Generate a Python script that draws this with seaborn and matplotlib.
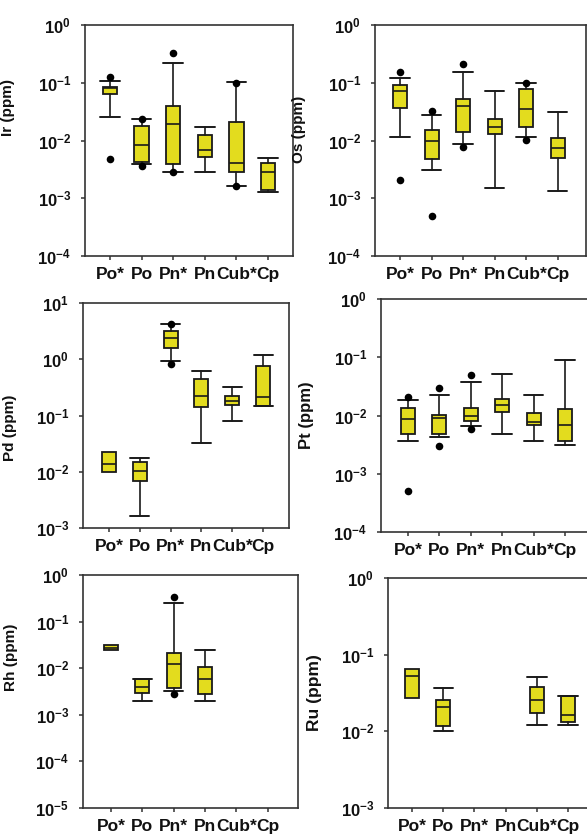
import numpy as np
import pandas as pd
import matplotlib
matplotlib.use("Agg")
import matplotlib.pyplot as plt
from matplotlib.ticker import FuncFormatter, LogLocator, NullLocator
import seaborn as sns

nan = np.nan
categories = ["Po*", "Po", "Pn*", "Pn", "Cub*", "Cp"]

# ---------------- Ir ----------------
ir_q1 = [0.064, 0.0043, 0.0039, 0.0052, 0.0029, 0.0014]
ir_med = [0.080, 0.0083, 0.019, 0.0068, 0.0040, 0.0029]
ir_q3 = [0.086, 0.0178, 0.040, 0.0124, 0.021, 0.0040]
ir_wlo = [0.026, 0.0039, 0.0029, 0.0029, 0.0016, 0.0013]
ir_whi = [0.107, 0.024, 0.22, 0.017, 0.104, 0.0049]
ir_fl_cat = ["Po*", "Po*", "Po", "Po", "Pn*", "Pn*", "Cub*", "Cub*"]
ir_fl_val = [0.124, 0.0047, 0.024, 0.0036, 0.33, 0.0029, 0.10, 0.0016]

# ---------------- Os ----------------
os_q1 = [0.037, 0.0048, 0.014, 0.013, 0.017, 0.0049]
os_med = [0.072, 0.0097, 0.039, 0.017, 0.035, 0.0074]
os_q3 = [0.090, 0.0154, 0.053, 0.024, 0.079, 0.011]
os_wlo = [0.0117, 0.0031, 0.0088, 0.0015, 0.0117, 0.00135]
os_whi = [0.123, 0.028, 0.155, 0.072, 0.10, 0.031]
os_fl_cat = ["Po*", "Po*", "Po", "Po", "Pn*", "Pn*", "Cub*", "Cub*"]
os_fl_val = [0.154, 0.0021, 0.032, 0.0005, 0.21, 0.0076, 0.10, 0.0103]

# ---------------- Pd ----------------
pd_q1 = [0.0097, 0.0069, 1.6, 0.144, 0.155, 0.148]
pd_med = [0.014, 0.0105, 2.35, 0.22, 0.184, 0.21]
pd_q3 = [0.022, 0.015, 3.2, 0.44, 0.22, 0.76]
pd_wlo = [nan, 0.00166, 0.93, 0.032, 0.081, 0.148]
pd_whi = [nan, 0.0174, 4.2, 0.63, 0.32, 1.19]
pd_fl_cat = ["Pn*", "Pn*"]
pd_fl_val = [4.3, 0.81]

# ---------------- Pt ----------------
pt_q1 = [0.0049, 0.0048, 0.0082, 0.0116, 0.0069, 0.0037]
pt_med = [0.0086, 0.0090, 0.0098, 0.015, 0.0078, 0.0069]
pt_q3 = [0.0133, 0.0102, 0.0133, 0.019, 0.0112, 0.0128]
pt_wlo = [0.0037, 0.0042, 0.0065, 0.0049, 0.0037, 0.0031]
pt_whi = [0.0185, 0.0224, 0.038, 0.052, 0.0224, 0.09]
pt_fl_cat = ["Po*", "Po*", "Po", "Po", "Pn*", "Pn*"]
pt_fl_val = [0.0205, 0.00051, 0.0294, 0.0030, 0.0496, 0.0059]

# ---------------- Rh ----------------
rh_q1 = [0.024, 0.0030, 0.0038, 0.0028, nan, nan]
rh_med = [0.0275, 0.0040, 0.0123, 0.0059, nan, nan]
rh_q3 = [0.0316, 0.0058, 0.0215, 0.0108, nan, nan]
rh_wlo = [nan, 0.0020, 0.0032, 0.0020, nan, nan]
rh_whi = [nan, 0.0058, 0.246, 0.024, nan, nan]
rh_fl_cat = ["Pn*", "Pn*"]
rh_fl_val = [0.33, 0.0028]

# ---------------- Ru ----------------
ru_q1 = [0.027, 0.0118, nan, nan, 0.0175, 0.0134]
ru_med = [0.053, 0.0205, nan, nan, 0.026, 0.0163]
ru_q3 = [0.066, 0.026, nan, nan, 0.0376, 0.029]
ru_wlo = [nan, 0.010, nan, nan, 0.012, 0.012]
ru_whi = [nan, 0.037, nan, nan, 0.0516, 0.029]
ru_fl_cat = []
ru_fl_val = []

ylabels = ["Ir (ppm)", "Os (ppm)", "Pd (ppm)", "Pt (ppm)", "Rh (ppm)", "Ru (ppm)"]

# ---------------- style ----------------
sns.set_style("ticks")
plt.rcParams["font.family"] = ["Liberation Sans", "DejaVu Sans"]
plt.rcParams["font.weight"] = "bold"
plt.rcParams["mathtext.fontset"] = "custom"
plt.rcParams["mathtext.rm"] = "Liberation Sans:bold"
plt.rcParams["mathtext.bf"] = "Liberation Sans:bold"
plt.rcParams["mathtext.it"] = "Liberation Sans:bold"
plt.rcParams["mathtext.default"] = "bf"

W, H = 587, 836
fig = plt.figure(figsize=(W / 100, H / 100), dpi=100)
fig.patch.set_facecolor("white")

FILL = "#e3dc1e"
INK = "#1a1a1a"

panels = [
    dict(q1=ir_q1, med=ir_med, q3=ir_q3, wlo=ir_wlo, whi=ir_whi, fc=ir_fl_cat, fv=ir_fl_val,
         rect=(85, 25, 293, 256), xlim=(-0.79, 5.79), ylim=(-4, 0), lab=ylabels[0],
         labpos=(15, 107), labsize=11),
    dict(q1=os_q1, med=os_med, q3=os_q3, wlo=os_wlo, whi=os_whi, fc=os_fl_cat, fv=os_fl_val,
         rect=(375, 25, 586, 256), xlim=(-0.8, 5.9), ylim=(-4, 0), lab=ylabels[1],
         labpos=(306, 129), labsize=11),
    dict(q1=pd_q1, med=pd_med, q3=pd_q3, wlo=pd_wlo, whi=pd_whi, fc=pd_fl_cat, fv=pd_fl_val,
         rect=(83, 303, 289, 528), xlim=(-0.84, 5.84), ylim=(-3, 1), lab=ylabels[2],
         labpos=(17, 428), labsize=11),
    dict(q1=pt_q1, med=pt_med, q3=pt_q3, wlo=pt_wlo, whi=pt_whi, fc=pt_fl_cat, fv=pt_fl_val,
         rect=(381, 299, 592, 532), xlim=(-0.86, 5.86), ylim=(-4, 0), lab=ylabels[3],
         labpos=(314, 415), labsize=12),
    dict(q1=rh_q1, med=rh_med, q3=rh_q3, wlo=rh_wlo, whi=rh_whi, fc=rh_fl_cat, fv=rh_fl_val,
         rect=(83, 575, 298, 808), xlim=(-0.89, 5.96), ylim=(-5, 0), lab=ylabels[4],
         labpos=(18, 657), labsize=11),
    dict(q1=ru_q1, med=ru_med, q3=ru_q3, wlo=ru_wlo, whi=ru_whi, fc=ru_fl_cat, fv=ru_fl_val,
         rect=(388, 578, 593, 808), xlim=(-0.77, 5.8), ylim=(-3, 0), lab=ylabels[5],
         labpos=(322, 693), labsize=12.5),
]

fmt = FuncFormatter(lambda v, p: r"$10^{%d}$" % int(round(np.log10(v))))

for P in panels:
    l, t, r, b = P["rect"]
    ax = fig.add_axes([l / W, 1 - b / H, (r - l) / W, (b - t) / H])
    ax.set_facecolor("white")

    stats, pos, nowhisk = [], [], []
    for i in range(len(categories)):
        if np.isnan(P["q1"][i]):
            continue
        wl, wh = P["wlo"][i], P["whi"][i]
        nw = np.isnan(wl)
        if nw:
            wl, wh = P["q1"][i], P["q3"][i]
        stats.append(dict(med=P["med"][i], q1=P["q1"][i], q3=P["q3"][i],
                          whislo=wl, whishi=wh, fliers=[]))
        pos.append(i)
        nowhisk.append(nw)

    art = ax.bxp(stats, positions=pos, widths=0.45, capwidths=0.62, patch_artist=True,
                 showfliers=False, manage_ticks=False,
                 boxprops=dict(facecolor=FILL, edgecolor=INK, linewidth=1.3),
                 whiskerprops=dict(color=INK, linewidth=1.2),
                 capprops=dict(color=INK, linewidth=1.4),
                 medianprops=dict(color=INK, linewidth=1.2))
    for k, nw in enumerate(nowhisk):
        if nw:
            for a in (art["caps"][2 * k], art["caps"][2 * k + 1],
                      art["whiskers"][2 * k], art["whiskers"][2 * k + 1]):
                a.set_visible(False)

    if len(P["fv"]):
        fdf = pd.DataFrame({"x": [categories.index(c) for c in P["fc"]], "y": P["fv"]})
        sns.scatterplot(data=fdf, x="x", y="y", ax=ax, color="black", s=30,
                        edgecolor="black", linewidth=0, zorder=5, legend=False)

    ax.set_yscale("log")
    ax.set_ylim(10.0 ** P["ylim"][0], 10.0 ** P["ylim"][1])
    ax.set_xlim(*P["xlim"])
    ax.yaxis.set_major_locator(LogLocator(base=10, numticks=12))
    ax.yaxis.set_minor_locator(NullLocator())
    ax.yaxis.set_major_formatter(fmt)
    ax.set_xticks(range(len(categories)))
    ax.set_xticklabels(categories)
    ax.set_xlabel("")
    ax.set_ylabel(P["lab"], fontsize=P["labsize"], fontweight="bold", color="#111")
    lx, ly = P["labpos"]
    ax.yaxis.set_label_coords((lx - l) / (r - l), (b - ly) / (b - t))

    ax.tick_params(axis="y", direction="out", length=3, width=1.1, color="#333",
                   pad=7, labelsize=12, labelcolor="#111")
    ax.tick_params(axis="x", direction="out", length=3, width=1.1, color="#333",
                   pad=5, labelsize=12.5, labelcolor="#111")
    for lab in ax.get_xticklabels():
        lab.set_fontweight("bold")
    for sp in ax.spines.values():
        sp.set_visible(True)
        sp.set_color("#333")
        sp.set_linewidth(1.2)

fig.savefig("out.png", dpi=100, facecolor="white")
